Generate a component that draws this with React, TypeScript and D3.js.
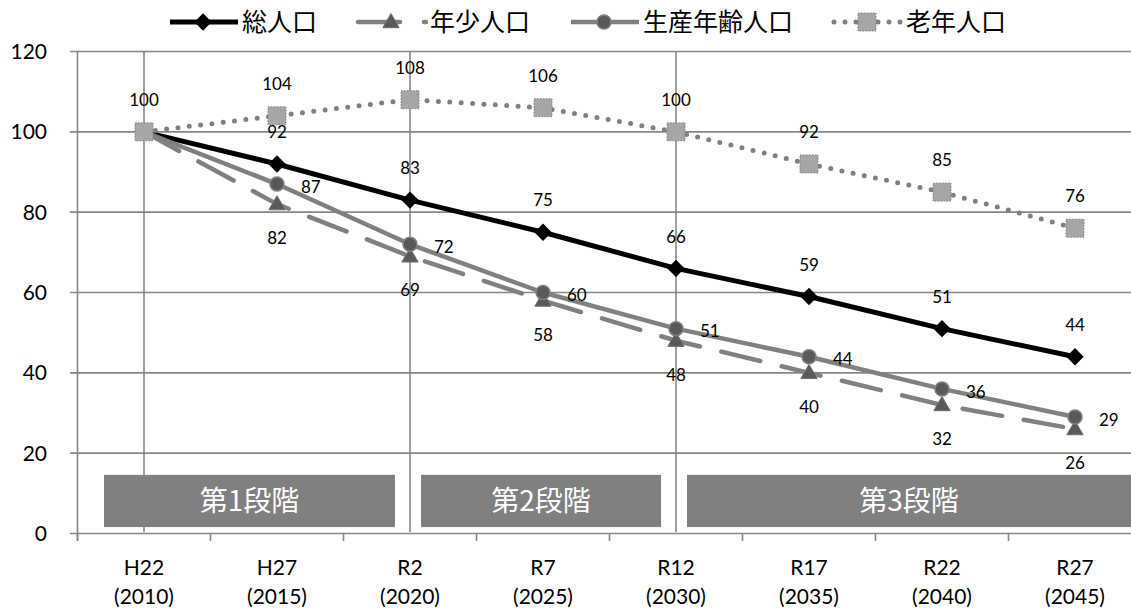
import React from "react";
import * as d3 from "d3";

// Population index by census year (2010 = 100)
const categories = ["H22", "H27", "R2", "R7", "R12", "R17", "R22", "R27"];
const years = ["2010", "2015", "2020", "2025", "2030", "2035", "2040", "2045"];

const totalPop = [100, 92, 83, 75, 66, 59, 51, 44];
const youthPop = [100, 82, 69, 58, 48, 40, 32, 26];
const workingPop = [100, 87, 72, 60, 51, 44, 36, 29];
const elderlyPop = [100, 104, 108, 106, 100, 92, 85, 76];

const yTicks = [0, 20, 40, 60, 80, 100, 120];

const stageLabels = ["第1段階", "第2段階", "第3段階"];
const stageFrom = ["H22", "R2", "R12"];
const stageTo = ["R2", "R12", "R27"];

type Marker = "diamond" | "triangle" | "circle" | "square";
type LabelPos = "above" | "below" | "right";

interface Series {
  name: string;
  values: number[];
  stroke: string;
  width: number;
  dash?: string;
  legendDash?: string;
  cap: "round" | "butt";
  marker: Marker;
  label: LabelPos;
}

const series: Series[] = [
  { name: "総人口", values: totalPop, stroke: "#000000", width: 5, cap: "butt", marker: "diamond", label: "above" },
  {
    name: "年少人口",
    values: youthPop,
    stroke: "#808080",
    width: 4.5,
    dash: "40 22",
    legendDash: "42 24",
    cap: "round",
    marker: "triangle",
    label: "below",
  },
  { name: "生産年齢人口", values: workingPop, stroke: "#808080", width: 4.5, cap: "butt", marker: "circle", label: "right" },
  {
    name: "老年人口",
    values: elderlyPop,
    stroke: "#808080",
    width: 5,
    dash: "0 11.4",
    legendDash: "0 11",
    cap: "round",
    marker: "square",
    label: "above",
  },
];

const W = 1131;
const H = 609;
const plotLeft = 77.5;
const plotRight = 1141.5;
const plotTop = 51.5;
const plotBottom = 533.5;

const NUM_FONT = "Lato, 'Liberation Sans', sans-serif";
const CJK_FONT = "'Noto Sans CJK JP', sans-serif";
const GRID = "#878787";

const x = d3.scalePoint<string>().domain(categories).range([plotLeft, plotRight]).padding(0.5);
const y = d3.scaleLinear().domain([0, 120]).range([plotBottom, plotTop]);
const step = x.step();

const diamondPath = d3.symbol().type(d3.symbolSquare).size(150)() as string;
const trianglePath = d3.symbol().type(d3.symbolTriangle).size(115)() as string;

function MarkerShape({ kind, cx, cy }: { kind: Marker; cx: number; cy: number }) {
  if (kind === "diamond") {
    return <path d={diamondPath} transform={`translate(${cx},${cy}) rotate(45)`} fill="#000" />;
  }
  if (kind === "triangle") {
    return (
      <path d={trianglePath} transform={`translate(${cx},${cy + 1})`} fill="#595959" stroke="#6f6f6f" strokeWidth={1} />
    );
  }
  if (kind === "circle") {
    return <circle cx={cx} cy={cy} r={7} fill="#595959" stroke="#808080" strokeWidth={1.5} />;
  }
  return (
    <rect
      x={cx - 9}
      y={cy - 9}
      width={18}
      height={18}
      fill="#a6a6a6"
      stroke="#7f7f7f"
      strokeWidth={1}
      strokeDasharray="1.5 1.5"
    />
  );
}

const lineGen = d3
  .line<number>()
  .x((_, i) => x(categories[i]) as number)
  .y((d) => y(d));

function labelPos(kind: LabelPos, px: number, py: number) {
  if (kind === "above") return { lx: px, ly: py - 32, anchor: "middle" };
  if (kind === "below") return { lx: px, ly: py + 34, anchor: "middle" };
  return { lx: px + 24, ly: py + 2.5, anchor: "start" };
}

// legend geometry
const legendY = 22;
const legendSymbolW = 70;
const legendFont = 25;
const legendGap = 38;
const legendItems = (() => {
  let cx = 168;
  return series.map((s) => {
    const item = { s, x0: cx };
    cx += legendSymbolW + 5 + s.name.length * legendFont + legendGap;
    return item;
  });
})();

export default function App() {
  return (
    <svg
      width={W}
      height={H}
      style={{ position: "fixed", left: 0, top: 0, display: "block", background: "#fff" }}
    >
      {/* horizontal gridlines with left tick stubs */}
      {yTicks.map((t) => (
        <line key={`g${t}`} x1={plotLeft - 7.5} x2={W} y1={y(t)} y2={y(t)} stroke={GRID} strokeWidth={1.6} />
      ))}
      {/* y axis */}
      <line x1={plotLeft} x2={plotLeft} y1={plotTop} y2={plotBottom + 7.5} stroke={GRID} strokeWidth={1.6} />
      {yTicks.map((t) => (
        <text
          key={`yl${t}`}
          x={47}
          y={y(t)}
          dy="0.36em"
          textAnchor="end"
          fontFamily={NUM_FONT}
          fontSize={21}
          fill="#000"
        >
          {t}
        </text>
      ))}

      {/* x axis ticks at category boundaries */}
      {categories.map((c) => (
        <line
          key={`xt${c}`}
          x1={(x(c) as number) - step / 2}
          x2={(x(c) as number) - step / 2}
          y1={plotBottom}
          y2={plotBottom + 7.5}
          stroke={GRID}
          strokeWidth={1.6}
        />
      ))}
      {categories.map((c, i) => (
        <text key={`xl${c}`} x={x(c)} textAnchor="middle" fontFamily={NUM_FONT} fontSize={21} fill="#000">
          <tspan x={x(c)} y={575}>
            {c}
          </tspan>
          <tspan x={x(c)} y={604}>
            ({years[i]})
          </tspan>
        </text>
      ))}

      {/* stage boundaries */}
      {stageFrom.map((c) => (
        <line key={`sv${c}`} x1={x(c)} x2={x(c)} y1={plotTop} y2={plotBottom - 1.5} stroke={GRID} strokeWidth={1.6} />
      ))}

      {/* stage boxes */}
      {stageLabels.map((lab, i) => {
        const left = i === 0 ? plotLeft + 26.5 : (x(stageFrom[i]) as number) + 11;
        const right = i === stageLabels.length - 1 ? W : (x(stageTo[i]) as number) - 15;
        const top = y(14.6);
        const bottom = y(1.6);
        return (
          <g key={lab}>
            <rect x={left} y={top} width={right - left} height={bottom - top} fill="#808080" />
            <text
              x={(left + right) / 2}
              y={(top + bottom) / 2}
              dy="0.36em"
              textAnchor="middle"
              fontFamily={CJK_FONT}
              fontSize={28}
              fill="#fff"
            >
              {lab}
            </text>
          </g>
        );
      })}

      {/* series lines and markers */}
      {series.map((s) => (
        <g key={s.name}>
          <path
            d={lineGen(s.values) as string}
            fill="none"
            stroke={s.stroke}
            strokeWidth={s.width}
            strokeDasharray={s.dash}
            strokeLinecap={s.cap}
            strokeLinejoin="round"
          />
          {s.values.map((v, i) => (
            <MarkerShape key={i} kind={s.marker} cx={x(categories[i]) as number} cy={y(v)} />
          ))}
        </g>
      ))}

      {/* data labels; the shared starting value (100) is labelled once */}
      {series.map((s, si) =>
        s.values.map((v, i) => {
          if (i === 0 && si !== 0) return null;
          const { lx, ly, anchor } = labelPos(s.label, x(categories[i]) as number, y(v));
          return (
            <text
              key={`${s.name}-${i}`}
              x={lx}
              y={ly}
              dy="0.36em"
              textAnchor={anchor as any}
              fontFamily={NUM_FONT}
              fontSize={17}
              fill="#000"
            >
              {v}
            </text>
          );
        })
      )}

      {/* legend */}
      {legendItems.map(({ s, x0 }) => (
        <g key={`lg${s.name}`}>
          <line
            x1={x0 + 2}
            x2={x0 + legendSymbolW}
            y1={legendY}
            y2={legendY}
            stroke={s.stroke}
            strokeWidth={s.width}
            strokeDasharray={s.legendDash ?? s.dash}
            strokeLinecap={s.cap}
          />
          <MarkerShape kind={s.marker} cx={x0 + legendSymbolW / 2} cy={legendY} />
          <text
            x={x0 + legendSymbolW + 4}
            y={legendY}
            dy="0.36em"
            fontFamily={CJK_FONT}
            fontSize={legendFont}
            fill="#000"
          >
            {s.name}
          </text>
        </g>
      ))}
    </svg>
  );
}
